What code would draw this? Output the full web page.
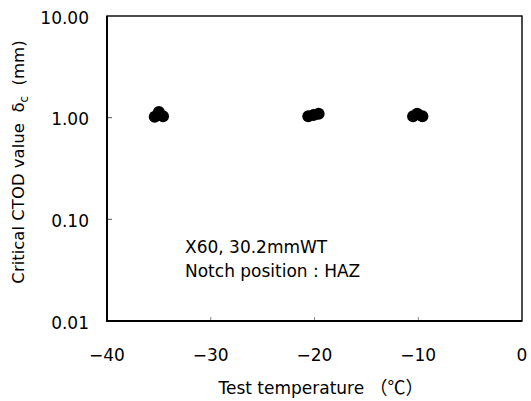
<!DOCTYPE html>
<html>
<head>
<meta charset="utf-8">
<script src="https://cdn.jsdelivr.net/npm/d3@7"></script>
<style>
    body { margin: 0; background: #fff; }
    text { font-family: "DejaVu Sans", "Noto Sans CJK JP", sans-serif; fill: #000; }
    .cjk { font-family: "Noto Sans CJK JP", sans-serif; }
</style>
</head>
<body>
<div class="viz"></div>
<script>
// values
const temps = [-35.4, -35.0, -34.6, -20.6, -20.1, -19.6, -10.5, -10.1, -9.6];
const ctod = [1.02, 1.14, 1.03, 1.03, 1.06, 1.09, 1.03, 1.09, 1.03];
const xTicks = [-40, -30, -20, -10, 0];
const yTicks = [0.01, 0.1, 1, 10];
const yTickLabels = ["0.01", "0.10", "1.00", "10.00"];
const noteLines = ["X60, 30.2mmWT", "Notch position : HAZ"];

var width = 531,
    height = 401,
    margin = { top: 16, right: 9, bottom: 80, left: 107 };

var svg = d3
    .select(".viz")
    .append("svg")
    .attr("width", width)
    .attr("height", height);

var x = d3
    .scaleLinear()
    .domain([-40, 0])
    .range([margin.left, width - margin.right]);
var y = d3
    .scaleLog()
    .domain([0.01, 10])
    .range([height - margin.bottom, margin.top]);

// inward ticks
svg.append("g")
    .selectAll("line")
    .data(xTicks.slice(1, -1))
    .enter()
    .append("line")
    .attr("x1", (d) => x(d))
    .attr("x2", (d) => x(d))
    .attr("y1", y(0.01))
    .attr("y2", y(0.01) - 4)
    .attr("stroke", "#888")
    .attr("stroke-width", 1);

svg.append("g")
    .selectAll("line")
    .data(yTicks.slice(1, -1))
    .enter()
    .append("line")
    .attr("x1", x(-40))
    .attr("x2", x(-40) + 5)
    .attr("y1", (d) => y(d))
    .attr("y2", (d) => y(d))
    .attr("stroke", "#555")
    .attr("stroke-width", 1);

// frame (left and bottom drawn a bit heavier)
svg.append("rect")
    .attr("x", x(-40))
    .attr("y", y(10))
    .attr("width", x(0) - x(-40))
    .attr("height", y(0.01) - y(10))
    .attr("fill", "none")
    .attr("stroke", "#000")
    .attr("stroke-width", 1.4);

svg.append("path")
    .attr("d", `M${x(-40)},${y(10)}V${y(0.01)}H${x(0)}`)
    .attr("fill", "none")
    .attr("stroke", "#000")
    .attr("stroke-width", 2);

// tick labels
svg.append("g")
    .selectAll("text")
    .data(xTicks)
    .enter()
    .append("text")
    .attr("x", (d) => x(d))
    .attr("y", 361)
    .attr("text-anchor", "middle")
    .style("font-size", "17px")
    .text((d) => (d < 0 ? "\u2212" + Math.abs(d) : d));

svg.append("g")
    .selectAll("text")
    .data(yTicks)
    .enter()
    .append("text")
    .attr("x", 89)
    .attr("y", (d) => y(d) + 7.5)
    .attr("text-anchor", "end")
    .style("font-size", "17px")
    .text((d, i) => yTickLabels[i]);

// axis titles
var xl = svg
    .append("text")
    .attr("x", 321)
    .attr("y", 394)
    .attr("text-anchor", "middle")
    .style("font-size", "17px");
xl.append("tspan").text("Test temperature\u00a0");
xl.append("tspan").attr("class", "cjk").style("font-size", "18px").text("（℃）");

var yl = svg
    .append("text")
    .attr("transform", "translate(24,162) rotate(-90)")
    .attr("text-anchor", "middle")
    .style("font-size", "16.5px");
yl.append("tspan").text("Critical CTOD value\u00a0\u00a0δ");
yl.append("tspan").attr("dy", 4).style("font-size", "12px").text("c");
yl.append("tspan").attr("dy", -4).text("\u00a0\u00a0(mm)");

// note
svg.append("g")
    .selectAll("text")
    .data(noteLines)
    .enter()
    .append("text")
    .attr("x", 185)
    .attr("y", (d, i) => 253 + i * 24)
    .style("font-size", "17px")
    .text((d) => d);

// points
svg.append("g")
    .selectAll("circle")
    .data(temps)
    .enter()
    .append("circle")
    .attr("cx", (d) => x(d))
    .attr("cy", (d, i) => y(ctod[i]))
    .attr("r", 6)
    .attr("fill", "#000");
</script>
</body>
</html>
